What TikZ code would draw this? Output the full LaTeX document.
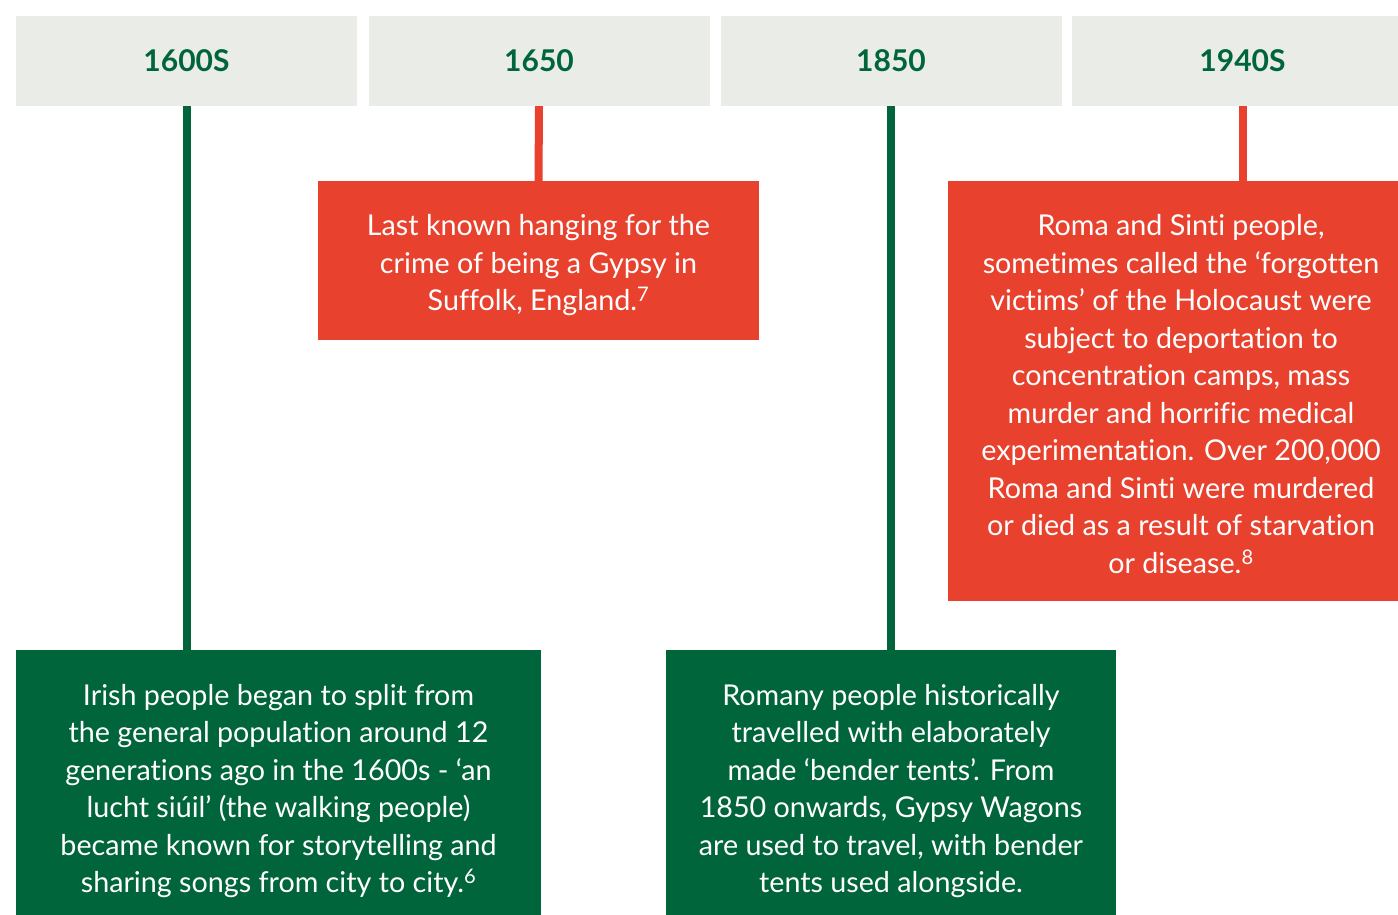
\documentclass[tikz,border=0pt]{standalone}
\usepackage{fontspec}
\usepackage{xcolor}
\usepackage{tikz}
\setmainfont{Lato}[Ligatures={NoCommon}]
\definecolor{tlgreen}{RGB}{0, 101, 58}
\definecolor{tlred}{RGB}{232, 65, 45}
\definecolor{tlgrey}{RGB}{234, 236, 232}
\usetikzlibrary{positioning}

\tikzset{
  yearbox/.style={rectangle, fill=tlgrey, minimum width=341pt, minimum height=90pt, inner sep=0pt,
    text=tlgreen, font=\fontsize{30}{36}\selectfont\bfseries},
  redbox/.style={rectangle, fill=tlred, inner sep=0pt},
  greenbox/.style={rectangle, fill=tlgreen, inner sep=0pt},
  boxtext/.style={inner sep=0pt, align=center, text=white, font=\fontsize{28.7}{37.5}\selectfont},
  stem/.style={line width=8pt}
}

\begin{document}
\begin{tikzpicture}[x=1pt, y=-1pt]
    \useasboundingbox[fill=white] (0,0) rectangle (1398,915);

    % year headers
    \node[yearbox] (y1600) at (186.5,61) {1600S};
    \node[yearbox] (y1650) at (539,61) {1650};
    \node[yearbox] (y1850) at (891,61) {1850};
    \node[yearbox] (y1940) at (1242.5,61) {1940S};

    % event boxes
    \node[redbox, minimum width=441pt, minimum height=159pt] (hanging) at (538.5,260.5) {};
    \node[boxtext] (hangingtext) at ([yshift=-5pt]hanging.center)
        {Last known hanging for the\\crime of being a Gypsy in\\Suffolk, England.\textsuperscript{7}};
    \node[redbox, minimum width=450pt, minimum height=420pt] (holocaust) at (1173,391) {};
    \node[boxtext] (holocausttext) at ([xshift=8pt, yshift=-3pt]holocaust.center)
        {Roma and Sinti people,\\sometimes called the ‘forgotten\\victims’ of the Holocaust were\\subject to deportation to\\concentration camps, mass\\murder and horrific medical\\experimentation. Over 200,000\\Roma and Sinti were murdered\\or died as a result of starvation\\or disease.\textsuperscript{8}};
    \node[greenbox, minimum width=525pt, minimum height=280pt] (irish) at (278.5,790) {};
    \node[boxtext] (irishtext) at ([yshift=-1pt]irish.center)
        {Irish people began to split from\\the general population around 12\\generations ago in the 1600s - ‘an\\lucht siúil’ (the walking people)\\became known for storytelling and\\sharing songs from city to city.\textsuperscript{6}};
    \node[greenbox, minimum width=450pt, minimum height=280pt] (romany) at (891,790) {};
    \node[boxtext] (romanytext) at ([yshift=-1pt]romany.center)
        {Romany people historically\\travelled with elaborately\\made ‘bender tents’. From\\1850 onwards, Gypsy Wagons\\are used to travel, with bender\\tents used alongside.};

    % stems
    \draw[stem, tlgreen] (y1600.south) -- (y1600.south |- irish.north);
    \draw[stem, tlred] (y1650.south) -- (hanging.north);
    \draw[stem, tlgreen] (y1850.south) -- (romany.north);
    \draw[stem, tlred] (y1940.south) -- (y1940.south |- holocaust.north);
\end{tikzpicture}
\end{document}
